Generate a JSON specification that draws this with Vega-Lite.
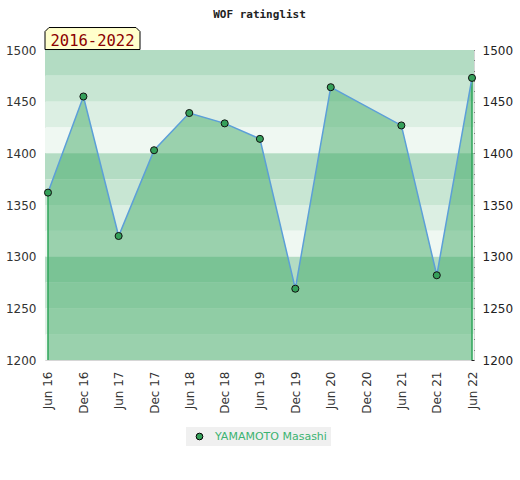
{
  "$schema": "https://vega.github.io/schema/vega-lite/v6.json",
  "width": 429,
  "height": 310,
  "autosize": {"type": "none"},
  "padding": {"left": 45, "top": 50, "right": 46, "bottom": 120},
  "title": {"text": "WOF ratinglist", "font": "DejaVu Sans Mono", "fontSize": 11, "fontWeight": "bold", "color": "#222", "anchor": "middle", "offset": -3, "baseline": "alphabetic"},
  "config": {"view": {"stroke": "#d6d6d6", "strokeWidth": 1}, "font": "DejaVu Sans"},
  "data": {
    "values": [
      {"date": "2016-06-01", "rating": 1362, "name": "YAMAMOTO Masashi"},
      {"date": "2016-12-01", "rating": 1455, "name": "YAMAMOTO Masashi"},
      {"date": "2017-06-01", "rating": 1320, "name": "YAMAMOTO Masashi"},
      {"date": "2017-12-01", "rating": 1403, "name": "YAMAMOTO Masashi"},
      {"date": "2018-06-01", "rating": 1439, "name": "YAMAMOTO Masashi"},
      {"date": "2018-12-01", "rating": 1429, "name": "YAMAMOTO Masashi"},
      {"date": "2019-06-01", "rating": 1414, "name": "YAMAMOTO Masashi"},
      {"date": "2019-12-01", "rating": 1269, "name": "YAMAMOTO Masashi"},
      {"date": "2020-06-01", "rating": 1464, "name": "YAMAMOTO Masashi"},
      {"date": "2021-06-01", "rating": 1427, "name": "YAMAMOTO Masashi"},
      {"date": "2021-12-01", "rating": 1282, "name": "YAMAMOTO Masashi"},
      {"date": "2022-06-01", "rating": 1473, "name": "YAMAMOTO Masashi"}
    ],
    "format": {"parse": {"date": "date"}}
  },
  "resolve": {"axis": {"x": "independent", "y": "independent"}},
  "layer": [
    {
      "data": {"values": [
        {"lo": 1475, "hi": 1500, "shade": 0},
        {"lo": 1450, "hi": 1475, "shade": 1},
        {"lo": 1425, "hi": 1450, "shade": 2},
        {"lo": 1400, "hi": 1425, "shade": 3},
        {"lo": 1375, "hi": 1400, "shade": 0},
        {"lo": 1350, "hi": 1375, "shade": 1},
        {"lo": 1325, "hi": 1350, "shade": 2},
        {"lo": 1300, "hi": 1325, "shade": 3},
        {"lo": 1275, "hi": 1300, "shade": 0},
        {"lo": 1250, "hi": 1275, "shade": 1},
        {"lo": 1225, "hi": 1250, "shade": 2},
        {"lo": 1200, "hi": 1225, "shade": 3}
      ]},
      "mark": {"type": "rect"},
      "encoding": {
        "y": {"field": "lo", "type": "quantitative", "scale": {"domain": [1200, 1500], "nice": false, "zero": false},
          "axis": {"orient": "left", "format": "d", "values": [1200, 1250, 1300, 1350, 1400, 1450, 1500], "ticks": false, "domain": false, "grid": false, "labelPadding": 9, "labelColor": "#333", "labelFontSize": 12, "title": null}},
        "y2": {"field": "hi"},
        "fill": {"field": "shade", "type": "ordinal", "scale": {"domain": [0, 1, 2, 3], "range": ["#b3dcc3", "#c8e6d3", "#dcefe3", "#eff8f2"]}, "legend": null}
      }
    },
    {
      "mark": {"type": "area", "color": "#3da763", "opacity": 0.48},
      "encoding": {
        "x": {"field": "date", "type": "temporal",
          "scale": {"type": "utc", "domain": [{"year": 2016, "month": 5, "date": 16, "hours": 12, "utc": true}, {"year": 2022, "month": 6, "date": 11, "hours": 8, "utc": true}]},
          "axis": {"orient": "bottom", "format": "%b %y", "labelAngle": 270, "ticks": false, "domain": false, "grid": false, "labelPadding": 11, "labelColor": "#333", "labelFontSize": 12, "title": null,
            "values": [
              {"year": 2016, "month": 6, "date": 1, "utc": true},
              {"year": 2016, "month": 12, "date": 1, "utc": true},
              {"year": 2017, "month": 6, "date": 1, "utc": true},
              {"year": 2017, "month": 12, "date": 1, "utc": true},
              {"year": 2018, "month": 6, "date": 1, "utc": true},
              {"year": 2018, "month": 12, "date": 1, "utc": true},
              {"year": 2019, "month": 6, "date": 1, "utc": true},
              {"year": 2019, "month": 12, "date": 1, "utc": true},
              {"year": 2020, "month": 6, "date": 1, "utc": true},
              {"year": 2020, "month": 12, "date": 1, "utc": true},
              {"year": 2021, "month": 6, "date": 1, "utc": true},
              {"year": 2021, "month": 12, "date": 1, "utc": true},
              {"year": 2022, "month": 6, "date": 1, "utc": true}
            ]}},
        "y": {"field": "rating", "type": "quantitative", "scale": {"domain": [1200, 1500], "nice": false, "zero": false},
          "axis": {"orient": "right", "format": "d", "values": [1200, 1210, 1220, 1230, 1240, 1250, 1260, 1270, 1280, 1290, 1300, 1310, 1320, 1330, 1340, 1350, 1360, 1370, 1380, 1390, 1400, 1410, 1420, 1430, 1440, 1450, 1460, 1470, 1480, 1490, 1500],
            "labelExpr": "datum.value % 50 == 0 ? datum.label : ''", "tickSize": 3, "offset": -3, "domain": false, "grid": false, "labelPadding": 8, "tickColor": "#222", "labelColor": "#222", "labelFontSize": 12, "title": null}},
        "y2": {"datum": 1200}
      }
    },
    {
      "transform": [{"filter": "(utcyear(datum.date) == 2016 && utcmonth(datum.date) == 5) || (utcyear(datum.date) == 2022 && utcmonth(datum.date) == 5)"}],
      "mark": {"type": "rule", "color": "#2ea55a", "strokeWidth": 1.5},
      "encoding": {
        "x": {"field": "date", "type": "temporal", "scale": {"type": "utc", "domain": [{"year": 2016, "month": 5, "date": 16, "hours": 12, "utc": true}, {"year": 2022, "month": 6, "date": 11, "hours": 8, "utc": true}]}, "axis": null},
        "y": {"field": "rating", "type": "quantitative", "scale": {"domain": [1200, 1500], "nice": false, "zero": false}, "axis": null},
        "y2": {"datum": 1200}
      }
    },
    {
      "mark": {"type": "line", "color": "#5c9fd8", "strokeWidth": 1.5},
      "encoding": {
        "x": {"field": "date", "type": "temporal", "scale": {"type": "utc", "domain": [{"year": 2016, "month": 5, "date": 16, "hours": 12, "utc": true}, {"year": 2022, "month": 6, "date": 11, "hours": 8, "utc": true}]}, "axis": null},
        "y": {"field": "rating", "type": "quantitative", "scale": {"domain": [1200, 1500], "nice": false, "zero": false}, "axis": null}
      }
    },
    {
      "mark": {"type": "point", "filled": true, "stroke": "#111", "strokeWidth": 1, "size": 50, "opacity": 1},
      "encoding": {
        "x": {"field": "date", "type": "temporal", "scale": {"type": "utc", "domain": [{"year": 2016, "month": 5, "date": 16, "hours": 12, "utc": true}, {"year": 2022, "month": 6, "date": 11, "hours": 8, "utc": true}]}, "axis": null},
        "y": {"field": "rating", "type": "quantitative", "scale": {"domain": [1200, 1500], "nice": false, "zero": false}, "axis": null},
        "color": {"field": "name", "type": "nominal", "scale": {"range": ["#35a05a"]},
          "legend": {"orient": "none", "legendX": 141, "legendY": 377, "title": null, "fillColor": "#f0f0f0", "padding": 4, "labelColor": "#3cb371", "labelFontSize": 11, "labelFont": "DejaVu Sans", "symbolType": "circle", "symbolSize": 45, "symbolStrokeColor": "#000", "symbolStrokeWidth": 1, "symbolOffset": 4, "labelOffset": 10}}
      }
    },
    {
      "data": {"values": [{"label": "2016-2022"}]},
      "mark": {"type": "point", "filled": true, "fill": "#ffffcc", "stroke": "#000", "strokeWidth": 1, "opacity": 1, "clip": false, "size": 9025,
        "shape": "M-1,0.2316L-1,-0.147L-0.916,-0.2316L0.916,-0.2316L1,-0.147L1,0.2316Z"},
      "encoding": {
        "x": {"datum": {"year": 2017, "month": 1, "date": 17, "utc": true}, "type": "temporal", "scale": {"type": "utc", "domain": [{"year": 2016, "month": 5, "date": 16, "hours": 12, "utc": true}, {"year": 2022, "month": 6, "date": 11, "hours": 8, "utc": true}]}, "axis": null},
        "y": {"datum": 1511.1, "type": "quantitative", "scale": {"domain": [1200, 1500], "nice": false, "zero": false}, "axis": null}
      }
    },
    {
      "data": {"values": [{"label": "2016-2022"}]},
      "mark": {"type": "text", "font": "DejaVu Sans Mono", "fontSize": 15.5, "color": "#8b0000", "align": "center", "baseline": "middle", "clip": false},
      "encoding": {
        "x": {"datum": {"year": 2017, "month": 1, "date": 17, "utc": true}, "type": "temporal", "scale": {"type": "utc", "domain": [{"year": 2016, "month": 5, "date": 16, "hours": 12, "utc": true}, {"year": 2022, "month": 6, "date": 11, "hours": 8, "utc": true}]}, "axis": null},
        "y": {"datum": 1508.7, "type": "quantitative", "scale": {"domain": [1200, 1500], "nice": false, "zero": false}, "axis": null},
        "text": {"field": "label"}
      }
    }
  ]
}
